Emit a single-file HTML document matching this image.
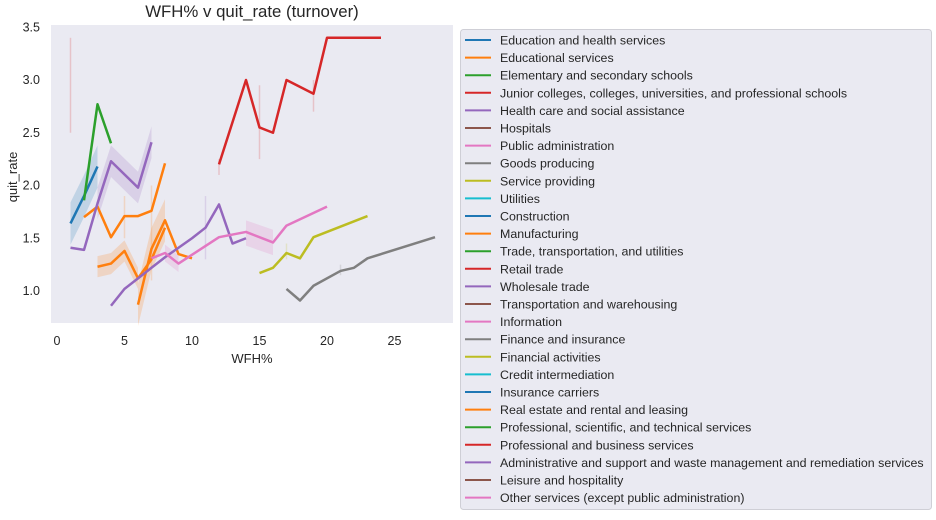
<!DOCTYPE html>
<html><head><meta charset="utf-8"><style>
body{margin:0;background:#fff;width:936px;height:515px;overflow:hidden;font-family:"Liberation Sans",sans-serif}
</style></head><body>
<svg id="chart" width="936" height="515" xmlns="http://www.w3.org/2000/svg" font-family="Liberation Sans, sans-serif">
<rect x="51" y="25" width="402" height="298" fill="#eaeaf2"/>
<text x="252" y="17" font-size="16.8" text-anchor="middle" fill="#262626">WFH% v quit_rate (turnover)</text>
<text x="252" y="363" font-size="13" text-anchor="middle" fill="#262626">WFH%</text>
<text transform="translate(17,177) rotate(-90)" font-size="13" text-anchor="middle" fill="#262626">quit_rate</text>
<g id="ticks"></g><g id="errs"></g><g id="bands"></g><g id="lines"></g>
<rect x="460.5" y="29.5" width="471" height="480" fill="#eaeaf2" stroke="#cfcfd6" rx="3"/>
<g id="legend"></g>
</svg>
<script>
const xTicks=[0,5,10,15,20,25];
const yTicks=[1.0,1.5,2.0,2.5,3.0,3.5];
const legendNames=["Education and health services","Educational services","Elementary and secondary schools","Junior colleges, colleges, universities, and professional schools","Health care and social assistance","Hospitals","Public administration","Goods producing","Service providing","Utilities","Construction","Manufacturing","Trade, transportation, and utilities","Retail trade","Wholesale trade","Transportation and warehousing","Information","Finance and insurance","Financial activities","Credit intermediation","Insurance carriers","Real estate and rental and leasing","Professional, scientific, and technical services","Professional and business services","Administrative and support and waste management and remediation services","Leisure and hospitality","Other services (except public administration)"];
const legendColors=["#1f77b4","#ff7f0e","#2ca02c","#d62728","#9467bd","#8c564b","#e377c2","#7f7f7f","#bcbd22","#17becf","#1f77b4","#ff7f0e","#2ca02c","#d62728","#9467bd","#8c564b","#e377c2","#7f7f7f","#bcbd22","#17becf","#1f77b4","#ff7f0e","#2ca02c","#d62728","#9467bd","#8c564b","#e377c2"];
const blueX=[1,2,3], blueY=[1.64,1.9,2.18];
const greenX=[2,3,4], greenY=[1.86,2.77,2.4];
const orangeAX=[2,3,4,5,6,7,8], orangeAY=[1.7,1.8,1.51,1.71,1.71,1.76,2.21];
const orangeBX=[3,4,5,6,7,8], orangeBY=[1.23,1.26,1.38,1.12,1.3,1.6];
const orangeCX=[6,7,8,9,10], orangeCY=[0.87,1.4,1.67,1.35,1.31];
const purpleBX=[1,2,3,4,6,7], purpleBY=[1.41,1.39,1.83,2.23,1.98,2.41];
const purpleAX=[4,5,6,7,8,9,10,11,12,13,14], purpleAY=[0.86,1.02,1.12,1.22,1.32,1.41,1.5,1.6,1.82,1.45,1.5];
const pinkX=[7,8,9,12,14,16,17,20], pinkY=[1.31,1.36,1.26,1.51,1.56,1.46,1.62,1.8];
const redX=[12,14,15,16,17,19,20,24], redY=[2.2,3.0,2.55,2.5,3.0,2.87,3.4,3.4];
const oliveX=[15,16,17,18,19,23], oliveY=[1.17,1.22,1.36,1.31,1.51,1.71];
const grayX=[17,18,19,21,22,23,28], grayY=[1.02,0.91,1.05,1.19,1.22,1.31,1.51];
const errX=[1,15,19,12,11,5,7,17,21], errLo=[2.5,2.25,2.7,2.1,1.3,1.5,1.1,1.3,1.15], errHi=[3.4,2.95,3.0,2.25,1.9,1.9,2.0,1.45,1.25];
const errColors=["#d62728","#d62728","#d62728","#d62728","#9467bd","#ff7f0e","#ff7f0e","#bcbd22","#7f7f7f"];
const xs=v=>57+v*13.5, ys=v=>291-(v-1)*105.5;
const NS="http://www.w3.org/2000/svg";
function mk(t,p,a){const e=document.createElementNS(NS,t);for(const k in a)e.setAttribute(k,a[k]);p.appendChild(e);return e;}
const tk=document.getElementById('ticks');
xTicks.forEach(v=>{const t=mk('text',tk,{x:xs(v),y:345,'font-size':12.5,'text-anchor':'middle',fill:'#262626'});t.textContent=v;

});
yTicks.forEach(v=>{const t=mk('text',tk,{x:40,y:ys(v)+4,'font-size':12.5,'text-anchor':'end',fill:'#262626'});t.textContent=v.toFixed(1);

});
const eg=document.getElementById('errs');
errX.forEach((x,i)=>{const l=mk('line',eg,{x1:xs(x),x2:xs(x),y1:ys(errLo[i]),y2:ys(errHi[i]),stroke:errColors[i],'stroke-opacity':0.2,'stroke-width':1.5});

});
const bg=document.getElementById('bands');
function band(xa,ya,w,col){const up=xa.map((x,i)=>xs(x)+','+ys(ya[i]+w)).join(' ');const dn=xa.map((x,i)=>xs(x)+','+ys(ya[i]-w)).reverse().join(' ');
const p=mk('polygon',bg,{points:up+' '+dn,fill:col,'fill-opacity':0.2});

}
band(blueX,blueY,0.2,'#1f77b4');band(purpleBX.slice(2),purpleBY.slice(2),0.15,'#9467bd');band(orangeBX.slice(0,4),orangeBY.slice(0,4),0.1,'#ff7f0e');band(orangeCX.slice(0,3),orangeCY.slice(0,3),0.2,'#ff7f0e');band([14,16],[1.55,1.46],0.12,'#e377c2');band([8,9],[1.36,1.26],0.08,'#e377c2');
const ln=document.getElementById('lines');
function line(xa,ya,col,name){const p=mk('polyline',ln,{points:xa.map((x,i)=>xs(x)+','+ys(ya[i])).join(' '),fill:'none',stroke:col,'stroke-width':2.5,'stroke-linejoin':'round'});

}
line(blueX,blueY,'#1f77b4','line-blue');line(greenX,greenY,'#2ca02c','line-green');
line(orangeAX,orangeAY,'#ff7f0e','line-orange-a');line(orangeBX,orangeBY,'#ff7f0e','line-orange-b');line(orangeCX,orangeCY,'#ff7f0e','line-orange-c');
line(purpleBX,purpleBY,'#9467bd','line-purple-b');line(purpleAX,purpleAY,'#9467bd','line-purple-a');
line(pinkX,pinkY,'#e377c2','line-pink');line(redX,redY,'#d62728','line-red');
line(oliveX,oliveY,'#bcbd22','line-olive');line(grayX,grayY,'#7f7f7f','line-gray');
const lg=document.getElementById('legend');
legendNames.forEach((n,i)=>{const y=40+i*17.6;
const l=mk('line',lg,{x1:465,x2:491,y1:y,y2:y,stroke:legendColors[i],'stroke-width':2});


const t=mk('text',lg,{x:500,y:y+4.5,'font-size':12.4,fill:'#262626'});t.textContent=n;

});
</script>
</body></html>
